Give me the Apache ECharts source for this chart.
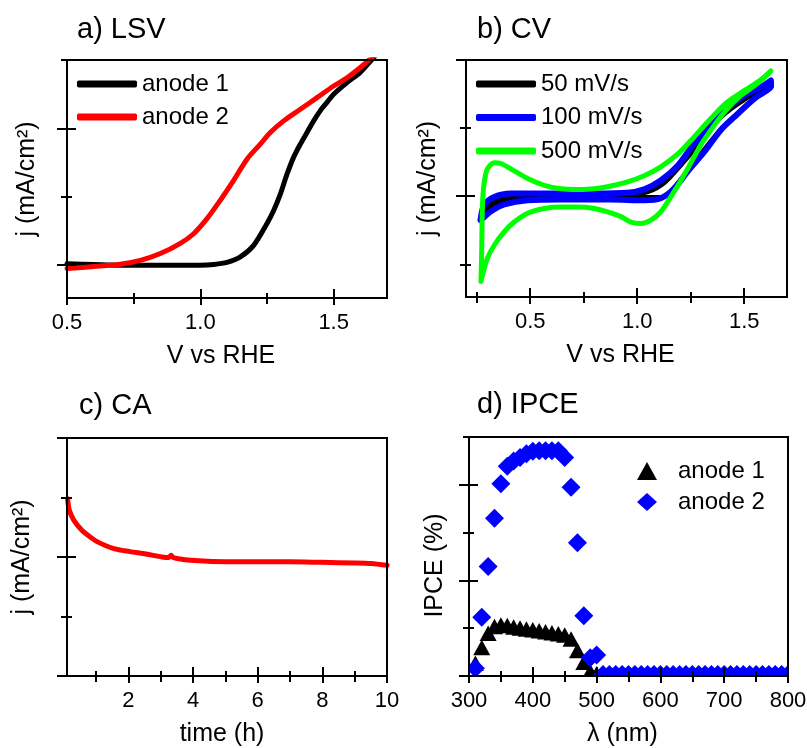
<!DOCTYPE html>
<html><head><meta charset="utf-8">
<script src="https://cdn.jsdelivr.net/npm/echarts@6/dist/echarts.min.js"></script>
<style>html,body{margin:0;padding:0;background:#fff}#c{width:807px;height:748px}</style>
</head><body><div id="c"></div>
<script>
// ---------- DATA ----------
// a) LSV (V vs RHE, j in arbitrary units)
const lsvV1 = [0.5,0.6,0.7,0.8,0.9,1.0,1.05,1.1,1.15,1.2,1.25,1.275,1.3,1.325,1.35,1.375,1.4,1.425,1.45,1.475,1.5,1.55,1.6,1.6375,1.66];
const lsvJ1 = [0.02,0.01,0.0,0.0,0.0,0.0,0.01,0.04,0.12,0.29,0.61,0.80,1.04,1.33,1.58,1.77,1.94,2.11,2.26,2.38,2.50,2.67,2.82,2.98,3.08];
const lsvV2 = [0.5,0.6,0.7,0.775,0.85,0.925,0.975,1.025,1.075,1.125,1.175,1.225,1.2625,1.3125,1.375,1.4375,1.5,1.55,1.6,1.63,1.66];
const lsvJ2 = [-0.05,-0.02,0.015,0.07,0.17,0.32,0.46,0.68,0.95,1.24,1.55,1.77,1.94,2.11,2.28,2.45,2.62,2.74,2.89,2.99,3.1];
// b) CV loops
const cvV50 = [0.277,0.330,0.410,0.643,0.955,1.050,1.130,1.210,1.290,1.360,1.440,1.520,1.578,1.630,1.630,1.550,1.470,1.390,1.310,1.230,1.150,1.110,0.955,0.643,0.410,0.330,0.277];
const cvJ50 = [-0.23,-0.08,-0.02,0.0,0.015,0.06,0.20,0.47,0.77,1.06,1.28,1.45,1.57,1.67,1.62,1.45,1.22,0.98,0.68,0.35,0.06,-0.01,-0.01,-0.02,-0.05,-0.12,-0.26];
const cvV100 = [0.268,0.285,0.332,0.410,0.566,0.800,0.955,1.033,1.110,1.190,1.266,1.344,1.420,1.500,1.578,1.625,1.625,1.547,1.470,1.390,1.313,1.235,1.173,1.110,1.033,0.877,0.643,0.488,0.379,0.317,0.277,0.268];
const cvJ100 = [-0.35,-0.13,-0.01,0.04,0.04,0.04,0.05,0.10,0.23,0.45,0.77,1.04,1.28,1.48,1.60,1.70,1.63,1.43,1.21,0.97,0.65,0.36,0.11,-0.03,-0.06,-0.05,-0.05,-0.06,-0.12,-0.22,-0.33,-0.35];
const cvV500 = [0.270,0.273,0.277,0.285,0.300,0.332,0.363,0.410,0.488,0.566,0.643,0.720,0.800,0.877,0.955,1.033,1.110,1.190,1.266,1.344,1.420,1.500,1.578,1.625,1.610,1.547,1.485,1.420,1.360,1.297,1.235,1.173,1.110,1.064,1.017,0.970,0.924,0.861,0.800,0.720,0.643,0.566,0.488,0.425,0.379,0.332,0.300,0.277,0.270];
const cvJ500 = [-1.25,-0.86,-0.13,0.20,0.40,0.49,0.48,0.40,0.26,0.16,0.11,0.10,0.11,0.15,0.21,0.30,0.43,0.62,0.87,1.14,1.38,1.55,1.71,1.84,1.79,1.62,1.48,1.28,1.04,0.75,0.40,0.07,-0.23,-0.35,-0.40,-0.38,-0.30,-0.23,-0.18,-0.16,-0.16,-0.18,-0.25,-0.38,-0.52,-0.72,-0.91,-1.16,-1.25];
// c) CA
const caT = [0.12,0.17,0.31,0.56,0.81,1.06,1.55,2.05,2.54,3.04,3.25,3.32,3.39,3.55,4.04,5.03,6.0,7.0,8.0,9.0,9.5,10.0];
const caJ = [2.98,2.79,2.62,2.45,2.34,2.25,2.14,2.09,2.05,2.00,1.99,2.03,1.99,1.97,1.94,1.92,1.92,1.92,1.91,1.90,1.89,1.86];
// d) IPCE
const ipceNm = [310,320,330,340,350,360,370,380,390,400,410,420,430,440,450,460,470,480,490,500,510,520,530,540,550,560,570,580,590,600,610,620,630,640,650,660,670,680,690,700,710,720,730,740,750,760,770,780,790,800];
const ipce1 = [0.25,0.58,0.88,1.02,1.05,1.04,1.01,0.99,0.97,0.95,0.93,0.91,0.89,0.87,0.84,0.76,0.52,0.27,0.08,0.03,0.01,0.01,0.01,0.01,0.01,0.01,0.01,0.01,0.01,0.01,0.01,0.01,0.01,0.01,0.01,0.01,0.01,0.01,0.01,0.01,0.01,0.01,0.01,0.01,0.01,0.01,0.01,0.01,0.01,0.01];
const ipce2 = [0.16,1.23,2.29,3.30,4.02,4.39,4.50,4.57,4.65,4.70,4.71,4.71,4.71,4.71,4.57,3.95,2.79,1.26,0.38,0.44,0.03,0.03,0.03,0.03,0.03,0.03,0.03,0.03,0.03,0.03,0.03,0.03,0.03,0.03,0.03,0.03,0.03,0.03,0.03,0.03,0.03,0.03,0.03,0.03,0.03,0.03,0.03,0.03,0.03,0.03];
// tick values
const aXMaj = [0.5,1.0,1.5], aXMin = [0.75,1.25], aYMaj = [0,2], aYMin = [1,3];
const bXMaj = [0.5,1.0,1.5], bXMin = [0.25,0.75,1.25], bYMaj = [0,2], bYMin = [-1,1];
const cXMaj = [2,4,6,8,10], cXMin = [1,3,5,7,9], cYMaj = [0,2,4], cYMin = [1,3];
const dXMaj = [300,400,500,600,700,800], dXMin = [350,450,550,650,750], dYMaj = [0,2,4], dYMin = [1,3,5];

// ---------- BUILD ----------
const FONT = '"Liberation Sans", Arial, sans-serif';
const zip = (a, b) => a.map((v, i) => [v, b[i]]);
const xAxes = [], yAxes = [];
function addAxes(dim, grid, min, max, majors, minors, label, name, nameGap, namePad) {
  const arr = dim === 'x' ? xAxes : yAxes;
  const pos = dim === 'x' ? 'bottom' : 'left';
  const L = dim === 'x' ? {mo:7, mi:9, no:6, ni:5} : {mo:10, mi:9, no:6, ni:5};
  const mk = (vals, len, inside, extra) => Object.assign({
    type: 'value', gridIndex: grid, position: pos, min: min, max: max, z: 12,
    axisLine: {show: false, onZero: false}, splitLine: {show: false},
    axisLabel: {show: false},
    axisTick: {show: true, inside: inside, length: len, customValues: vals, lineStyle: {color: '#000', width: 2}}
  }, extra || {});
  const idx = arr.length;
  arr.push(mk(majors, L.mo, false, {
    axisLabel: label ? {show: true, customValues: label.vals, formatter: label.fmt, margin: 14,
      color: '#000', fontSize: 22, fontFamily: FONT} : {show: false},
    name: name, nameLocation: 'middle', nameGap: nameGap, nameRotate: dim === 'y' ? 90 : 0,
    nameTextStyle: {color: '#000', fontSize: 25, fontFamily: FONT, padding: namePad || 0}
  }));
  arr.push(mk(majors, L.mi, true));
  if (minors.length) { arr.push(mk(minors, L.no, false)); arr.push(mk(minors, L.ni, true)); }
  return idx;
}
const f1 = v => Number(v).toFixed(1), f0 = v => String(Math.round(v));
const yName = 'j (mA/cm\u00B2)';
const ax = addAxes('x', 0, 0.5, 1.7, aXMaj, aXMin, {vals: aXMaj, fmt: f1}, 'V vs RHE', 46, [0, 12, 0, 0]);
const ay = addAxes('y', 0, -0.48, 3, aYMaj, aYMin, null, yName, 27);
const bx = addAxes('x', 1, 0.2, 1.7, bXMaj, bXMin, {vals: bXMaj, fmt: f1}, 'V vs RHE', 46, [0, 12, 0, 0]);
const by = addAxes('y', 1, -1.48, 2, bYMaj, bYMin, null, yName, 25);
const cx = addAxes('x', 2, 0.1, 10, cXMaj, cXMin, {vals: cXMaj, fmt: f0}, 'time (h)', 46, [0, 10, 0, 0]);
const cy = addAxes('y', 2, 0, 4, cYMaj, cYMin, null, yName, 32);
const dx = addAxes('x', 3, 300, 800, dXMaj, dXMin, {vals: dXMaj, fmt: f0}, '\u03BB (nm)', 46, [0, 12, 0, 0]);
const dy = addAxes('y', 3, 0, 5, dYMaj, dYMin, null, 'IPCE (%)', 21, [0, 18, 0, 0]);

const gridBase = {show: true, borderColor: '#000', borderWidth: 2, backgroundColor: 'transparent', z: 10, containLabel: false, outerBoundsMode: 'none'};
const grids = [
  Object.assign({left: 67, top: 60, width: 320, height: 238}, gridBase),
  Object.assign({left: 466, top: 60, width: 321, height: 237}, gridBase),
  Object.assign({left: 67, top: 438, width: 320, height: 238}, gridBase),
  Object.assign({left: 469, top: 437, width: 319, height: 239}, gridBase)
];
function lineS(name, xi, yi, data, color, width, smooth) {
  return {type: 'line', name: name, xAxisIndex: xi, yAxisIndex: yi, data: data, symbol: 'none',
    smooth: smooth, clip: true, lineStyle: {color: color, width: width, cap: 'round', join: 'round'},
    itemStyle: {color: color}, z: 2, animation: false};
}
function markS(name, data, shape, color) {
  return {type: 'custom', name: name, xAxisIndex: dx, yAxisIndex: dy, data: data, clip: true,
    encode: {x: 0, y: 1}, itemStyle: {color: color}, z: 3, animation: false,
    renderItem: function (params, api) {
      const p = api.coord([api.value(0), api.value(1)]);
      let pts;
      if (shape === 'diamond') pts = [[p[0], p[1] - 9.5], [p[0] + 9.5, p[1]], [p[0], p[1] + 9.5], [p[0] - 9.5, p[1]]];
      else pts = [[p[0], p[1] - 8.5], [p[0] + 8.5, p[1] + 7], [p[0] - 8.5, p[1] + 7]];
      return {type: 'polygon', shape: {points: pts}, style: {fill: color}};
    }};
}
const series = [
  lineS('anode 1', ax, ay, zip(lsvV1, lsvJ1), '#000000', 5, 0.3),
  lineS('anode 2', ax, ay, zip(lsvV2, lsvJ2), '#ff0000', 5, 0.3),
  lineS('50 mV/s', bx, by, zip(cvV50, cvJ50), '#000000', 4, 0.3),
  lineS('100 mV/s', bx, by, zip(cvV100, cvJ100), '#0000ff', 6, 0.3),
  lineS('500 mV/s', bx, by, zip(cvV500, cvJ500), '#00ff00', 5, 0.3),
  lineS('CA', cx, cy, zip(caT, caJ), '#ff0000', 5, 0.3),
  markS('anode 1 ', zip(ipceNm, ipce1), 'triangle', '#000000'),
  markS('anode 2 ', zip(ipceNm, ipce2), 'diamond', '#0000ff')
];
const txt = {color: '#000', fontSize: 24, lineHeight: 22, fontFamily: FONT};
const li = n => ({name: n, icon: 'roundRect'});
const legends = [
  {left: 77, top: 72, orient: 'vertical', itemWidth: 60, itemHeight: 7, itemGap: 9, padding: 0, selectedMode: false,
   data: [li('anode 1'), li('anode 2')], textStyle: txt},
  {left: 476, top: 72, orient: 'vertical', itemWidth: 60, itemHeight: 7, itemGap: 9.5, padding: 0, selectedMode: false,
   data: [li('50 mV/s'), li('100 mV/s'), li('500 mV/s')], textStyle: txt},
  {left: 637, top: 459, orient: 'vertical', itemWidth: 20, itemHeight: 18, itemGap: 7, padding: 0, selectedMode: false,
   data: [{name: 'anode 1 ', icon: 'triangle'}, {name: 'anode 2 ', icon: 'diamond'}],
   formatter: n => n.trim(), textStyle: Object.assign({padding: [0, 0, 0, 16]}, txt)}
];
const ts = {color: '#000', fontSize: 29, fontWeight: 'normal', fontFamily: FONT};
const titles = [
  {text: 'a) LSV', left: 77, top: 15, padding: 0, textStyle: ts},
  {text: 'b) CV', left: 477, top: 15, padding: 0, textStyle: ts},
  {text: 'c) CA', left: 79, top: 391, padding: 0, textStyle: ts},
  {text: 'd) IPCE', left: 477, top: 390, padding: 0, textStyle: ts}
];
const chart = echarts.init(document.getElementById('c'), null, {renderer: 'canvas'});
chart.setOption({
  animation: false, backgroundColor: '#ffffff',
  title: titles, legend: legends, grid: grids, xAxis: xAxes, yAxis: yAxes, series: series
});
</script>
</body></html>
